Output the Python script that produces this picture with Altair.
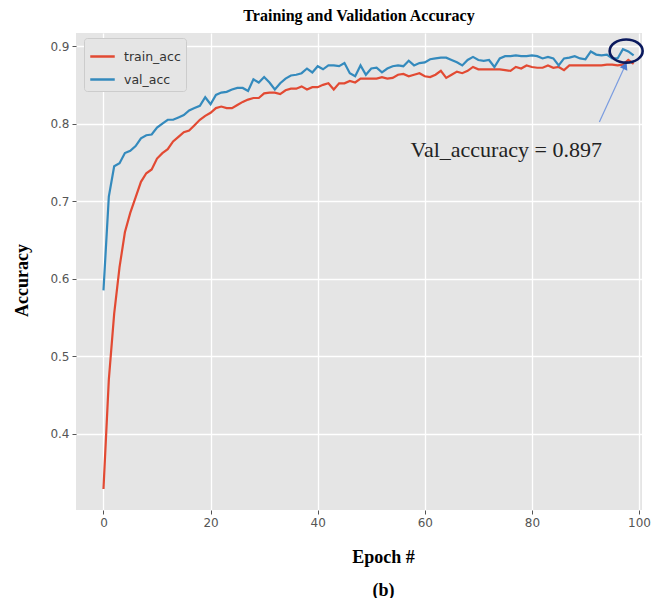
import altair as alt
import pandas as pd

epochs = list(range(100))
train_acc = [
    0.329, 0.470, 0.555, 0.615, 0.660, 0.685, 0.705, 0.725, 0.736, 0.741,
    0.755, 0.762, 0.767, 0.777, 0.783, 0.789, 0.791, 0.798, 0.805, 0.810,
    0.814, 0.820, 0.822, 0.820, 0.820, 0.824, 0.828, 0.831, 0.833, 0.833,
    0.839, 0.840, 0.840, 0.838, 0.843, 0.845, 0.845, 0.848, 0.844, 0.847,
    0.847, 0.850, 0.852, 0.844, 0.852, 0.852, 0.855, 0.853, 0.858, 0.858,
    0.858, 0.858, 0.860, 0.858, 0.859, 0.863, 0.864, 0.861, 0.863, 0.865,
    0.861, 0.860, 0.863, 0.868, 0.859, 0.863, 0.867, 0.865, 0.868, 0.873,
    0.870, 0.870, 0.870, 0.870, 0.870, 0.869, 0.868, 0.873, 0.871, 0.875,
    0.873, 0.872, 0.872, 0.875, 0.872, 0.873, 0.869, 0.875, 0.875, 0.875,
    0.875, 0.875, 0.875, 0.875, 0.876, 0.876, 0.875, 0.876, 0.882, 0.877,
]
val_acc = [
    0.585, 0.706, 0.745, 0.749, 0.762, 0.765, 0.771, 0.781, 0.785, 0.786,
    0.795, 0.800, 0.805, 0.805, 0.808, 0.811, 0.817, 0.820, 0.823, 0.834,
    0.825, 0.837, 0.840, 0.841, 0.844, 0.846, 0.846, 0.842, 0.857, 0.853,
    0.860, 0.853, 0.844, 0.852, 0.858, 0.862, 0.863, 0.865, 0.871, 0.866,
    0.874, 0.870, 0.875, 0.875, 0.874, 0.878, 0.865, 0.861, 0.875, 0.863,
    0.871, 0.872, 0.866, 0.871, 0.874, 0.875, 0.874, 0.881, 0.875, 0.878,
    0.879, 0.883, 0.884, 0.885, 0.885, 0.882, 0.879, 0.875, 0.882, 0.886,
    0.882, 0.881, 0.882, 0.873, 0.884, 0.887, 0.887, 0.888, 0.887, 0.887,
    0.888, 0.887, 0.884, 0.886, 0.884, 0.875, 0.884, 0.885, 0.887, 0.884,
    0.883, 0.893, 0.889, 0.888, 0.889, 0.884, 0.884, 0.896, 0.893, 0.888,
]
series_names = ["train_acc", "val_acc"]
series_colors = ["#E24A33", "#348ABD"]
x_ticks = [0, 20, 40, 60, 80, 100]
y_ticks = [0.4, 0.5, 0.6, 0.7, 0.8, 0.9]

# annotation values (data coordinates)
note_text = ["Val_accuracy = 0.897"]
note_x = [75.2]
note_y = [0.766]
circle_x = [97.6]
circle_y = [0.8935]
arrow_x0, arrow_y0, arrow_x1, arrow_y1 = [92.6], [0.802], [97.4], [0.8745]

df = pd.DataFrame({
    "epoch": epochs * 2,
    "acc": train_acc + val_acc,
    "series": [series_names[0]] * 100 + [series_names[1]] * 100,
})

X_DOM = [-5.13, 100.56]
Y_DOM = [0.302, 0.9168]

xs = alt.Scale(domain=X_DOM, nice=False, zero=False)
ys = alt.Scale(domain=Y_DOM, nice=False, zero=False)

lines = alt.Chart(df).mark_line(strokeWidth=2.2, clip=True).encode(
    x=alt.X("epoch:Q", scale=xs,
            axis=alt.Axis(values=x_ticks, format="d",
                          title=["Epoch #", "(b)"],
                          titleX=307, titleY=38, titleBaseline="top",
                          titleLineHeight=33)),
    y=alt.Y("acc:Q", scale=ys,
            axis=alt.Axis(values=y_ticks, format=".1f", title="Accuracy",
                          titleX=-54, titleY=247, titleBaseline="middle",
                          titleAlign="center")),
    color=alt.Color("series:N",
                    scale=alt.Scale(domain=series_names, range=series_colors),
                    legend=alt.Legend(title=None, orient="none",
                                      legendX=8, legendY=5)),
)

note_df = pd.DataFrame({"x": note_x, "y": note_y, "t": note_text})
note = alt.Chart(note_df).mark_text(
    font="Liberation Serif", fontSize=22, color="#222222",
    align="center", baseline="middle",
).encode(x=alt.X("x:Q", scale=xs), y=alt.Y("y:Q", scale=ys), text="t:N")

circ_df = pd.DataFrame({"x": circle_x, "y": circle_y})
circ = alt.Chart(circ_df).mark_point(
    shape="M-1,0 A1,0.7 0 1,1 1,0 A1,0.7 0 1,1 -1,0 Z",
    size=1089, filled=False, stroke="#0B1A5E", strokeWidth=2.6, opacity=1,
).encode(x=alt.X("x:Q", scale=xs), y=alt.Y("y:Q", scale=ys))

arr_df = pd.DataFrame({"x": arrow_x0, "y": arrow_y0, "x2": arrow_x1, "y2": arrow_y1})
arr_line = alt.Chart(arr_df).mark_rule(color="#7A9CE0", strokeWidth=1.2).encode(
    x=alt.X("x:Q", scale=xs), y=alt.Y("y:Q", scale=ys), x2="x2:Q", y2="y2:Q")
arr_head = alt.Chart(arr_df).mark_point(
    shape="triangle-up", size=70, filled=True, color="#4A78CF", angle=25, opacity=1,
).encode(x=alt.X("x2:Q", scale=xs), y=alt.Y("y2:Q", scale=ys))

chart = alt.layer(lines, arr_line, arr_head, circ, note).properties(
    width=566, height=477,
    title=alt.Title("Training and Validation Accuracy", font="Liberation Serif",
                    fontSize=16, fontWeight="bold", color="#000000", offset=9),
    autosize=alt.AutoSizeParams(type="none"),
    padding={"left": 68, "top": 25, "right": 9, "bottom": 88},
).configure_view(fill="#E5E5E5", stroke=None).configure_axis(
    grid=True, gridColor="#FFFFFF", gridWidth=1.3, domain=False,
    tickColor="#555555", tickSize=4, tickWidth=1,
    labelColor="#555555", labelFont="DejaVu Sans", labelFontSize=12,
    labelPadding=3,
    titleFont="Liberation Serif", titleFontSize=18, titleFontWeight="bold",
    titleColor="#000000",
).configure_legend(
    symbolType="stroke", symbolStrokeWidth=2.5, symbolSize=600,
    labelFont="DejaVu Sans", labelFontSize=12.5, labelColor="#333333",
    fillColor="#E5E5E5", strokeColor="#CCCCCC", cornerRadius=3,
    padding=5, rowPadding=3, labelOffset=8,
)

chart.save("out.html", embed_options={"renderer": "svg", "actions": False})
